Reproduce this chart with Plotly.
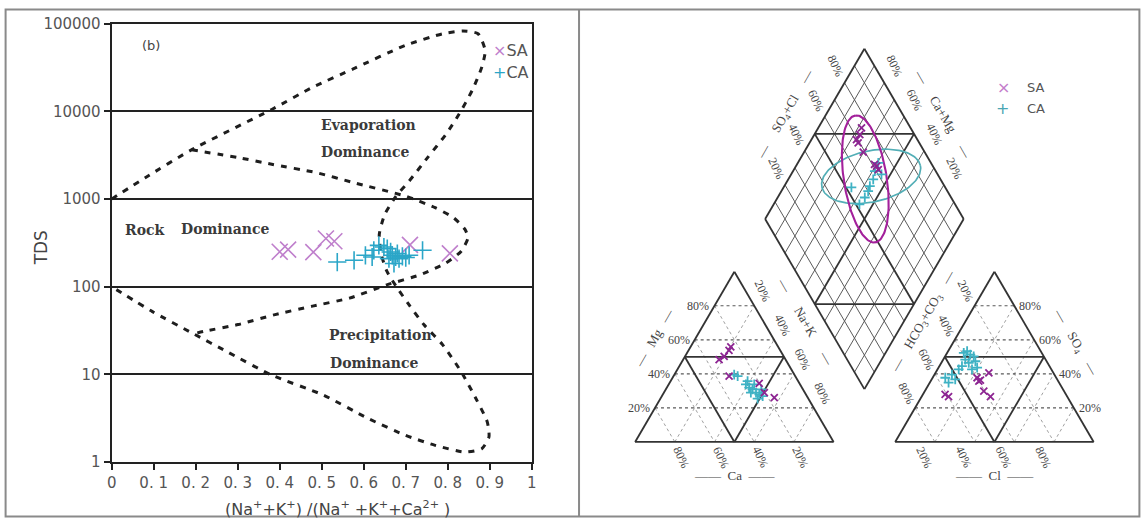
import math
import numpy as np
import plotly.graph_objects as go

W, H = 1145, 526
# the page is photographed with an 8px body margin and scaled to fit; positions below
# are given in target-picture pixels and converted to figure coordinates.
KX, KY = W / (W + 16), H / (H + 16)


def fx(px):
    return (px / KX - 8) / W


def fy(py):
    return 1 - (py / KY - 8) / H


# ---------------- Gibbs diagram data ----------------
gibbs_xticks = [0.0, 0.1, 0.2, 0.3, 0.4, 0.5, 0.6, 0.7, 0.8, 0.9, 1.0]
gibbs_xticktext = ["0", "0. 1", "0. 2", "0. 3", "0. 4", "0. 5", "0. 6", "0. 7", "0. 8", "0. 9", "1"]
gibbs_yticks = [1, 10, 100, 1000, 10000, 100000]
gibbs_yticktext = ["1", "10", "100", "1000", "10000", "100000"]

sa_ratio = [0.40, 0.42, 0.48, 0.51, 0.53, 0.71, 0.805]
sa_tds = [250, 265, 248, 355, 330, 300, 240]

ca_ratio = [0.537, 0.577, 0.604, 0.620, 0.624, 0.636, 0.648, 0.656, 0.660, 0.664,
            0.668, 0.672, 0.676, 0.680, 0.684, 0.692, 0.700, 0.708, 0.740]
ca_tds = [191, 200, 228, 218, 260, 296, 283, 272, 209, 249,
          228, 184, 218, 239, 209, 222, 215, 228, 260]

outer_x = [0, 0.08, 0.19, 0.381, 0.478, 0.575, 0.699, 0.788, 0.836, 0.872, 0.889, 0.881,
           0.858, 0.827, 0.796, 0.752, 0.708, 0.677, 0.650, 0.637, 0.642, 0.655, 0.677,
           0.708, 0.743, 0.788, 0.832, 0.867, 0.894, 0.898, 0.881, 0.841, 0.770, 0.699,
           0.611, 0.504, 0.381, 0.274, 0.195, 0.097, 0]
outer_y = [1000, 1750, 3640, 10500, 18800, 30500, 56500, 76800, 82400, 76800, 49500, 31900,
           17300, 9300, 5500, 2970, 1600, 1080, 667, 394, 232, 150, 101,
           62, 37, 21.7, 10.7, 5.3, 2.87, 1.93, 1.42, 1.30, 1.55, 2.02,
           3.13, 5.8, 9.8, 18.2, 29, 52, 100]

inner_x = [0.19, 0.301, 0.381, 0.487, 0.575, 0.699, 0.770, 0.814, 0.841, 0.848, 0.832,
           0.796, 0.735, 0.655, 0.566, 0.478, 0.389, 0.301, 0.221, 0.195]
inner_y = [3640, 2970, 2490, 2000, 1540, 1080, 796, 611, 450, 361, 254,
           187, 137, 105, 74, 60, 48, 37, 31, 29]

gibbs_label_text = ["Evaporation", "Dominance", "Rock", "Dominance", "Precipitation", "Dominance"]
gibbs_label_x = [0.612, 0.604, 0.077, 0.272, 0.639, 0.626]
gibbs_label_y = [6970, 3445, 441, 450, 27.9, 13.5]

# ---------------- Piper diagram data (percent) ----------------
sa_cat_ca = [33.5, 30.0, 25.8, 23.9, 33.3, 20.3, 16.9, 20.4]
sa_cat_mg = [48.4, 50.3, 53.8, 55.8, 38.7, 34.4, 26.0, 29.0]
sa_cat_nak = [18.1, 19.7, 20.4, 20.3, 28.0, 45.3, 57.1, 50.6]

ca_cat_ca = [30.3, 29.0, 27.3, 26.6, 25.4, 24.6, 23.5, 22.3, 23.1, 27.2, 21.0, 25.6, 25.5]
ca_cat_mg = [39.6, 38.7, 33.8, 31.9, 30.9, 29.0, 27.9, 26.9, 33.8, 29.0, 30.9, 25.4, 35.7]
ca_cat_nak = [30.1, 32.3, 38.9, 41.5, 43.7, 46.4, 48.6, 50.8, 43.1, 43.8, 48.1, 49.0, 38.8]

sa_an_hco3 = [60.9, 59.8, 39.9, 38.9, 32.5, 40.4, 38.7, 40.0]
sa_an_so4 = [27.9, 26.6, 37.7, 36.3, 40.6, 29.9, 26.6, 35.7]
sa_an_cl = [11.2, 13.6, 22.4, 24.8, 26.9, 29.7, 34.7, 24.3]

ca_an_hco3 = [39.3, 37.1, 36.5, 35.3, 40.5, 39.7, 35.9, 44.1, 46.7, 51.6, 55.9, 55.7, 40.0, 36.9, 51.4]
ca_an_so4 = [52.3, 53.3, 51.3, 50.3, 48.4, 46.5, 47.4, 44.5, 42.6, 39.6, 37.7, 34.8, 42.6, 43.6, 36.7]
ca_an_cl = [8.4, 9.6, 12.2, 14.4, 11.1, 13.8, 16.7, 11.4, 10.7, 8.8, 6.4, 9.5, 17.4, 19.5, 11.9]

sa_dia_camg = [78.2, 77.1, 77.3, 75.5, 70.2, 59.4, 57.5, 60.9]
sa_dia_so4cl = [75.3, 72.5, 69.3, 69.2, 69.0, 71.7, 71.5, 71.1]
ca_dia_camg = [59.5, 58.8, 57.2, 56.9, 56.3, 56.1, 65.8, 54.5, 56.8]
ca_dia_so4cl = [73.5, 69.3, 66.1, 62.4, 60.1, 56.5, 52.7, 71.7, 51.8]

# ellipses: centre (Ca+Mg %, SO4+Cl %), semi-axes (side units), rotation (deg)
sa_ell_center = [61.3, 62.2]
sa_ell_axes = [0.327, 0.108]
sa_ell_angle = 98.8
ca_ell_center = [59.1, 65.9]
ca_ell_axes = [0.254, 0.130]
ca_ell_angle = 12.6

pct_vals = [20, 40, 60, 80]
pct_text = ["20%", "40%", "60%", "80%"]

# ---------------- styling ----------------
SA_L = "#bf7fcc"
CA_L = "#2ba6c8"
SA_P = "#8d2592"
CA_P = "#3fb2c4"
SANS = "DejaVu Sans"
SERIF = "Liberation Serif"

# ---------------- Piper geometry ----------------
SQ = math.sqrt(3) / 2
G = 0.31
OX = 1 + G
BX, BY = 1 + G / 2, SQ * G
X0, Y0, S = 634.8, 442.8, 197.5  # picture pixel of cation Ca vertex, pixels per side


def cat_xy(ca, mg, nak):
    t = ca + mg + nak
    return (nak + 0.5 * mg) / t, SQ * mg / t


def an_xy(hco3, so4, cl):
    t = hco3 + so4 + cl
    return OX + (cl + 0.5 * so4) / t, SQ * so4 / t


def dia_xy(camg, so4cl):
    return BX - 0.5 * camg + 0.5 * so4cl, BY + SQ * (camg + so4cl)


fig = go.Figure()

# ---- Gibbs ----
for bx, by in ((outer_x, outer_y), (inner_x, inner_y)):
    fig.add_trace(go.Scatter(x=bx, y=by, mode="lines", xaxis="x", yaxis="y",
                             line=dict(color="#1e1e1e", width=3, dash="6px,7px", shape="spline", smoothing=0.6),
                             hoverinfo="skip", showlegend=False))
fig.add_trace(go.Scatter(x=sa_ratio, y=sa_tds, mode="markers", xaxis="x", yaxis="y",
                         marker=dict(symbol="x-thin", size=16, line=dict(color=SA_L, width=1.6)),
                         showlegend=False))
fig.add_trace(go.Scatter(x=ca_ratio, y=ca_tds, mode="markers", xaxis="x", yaxis="y",
                         marker=dict(symbol="cross-thin", size=13, line=dict(color=CA_L, width=1.6)),
                         showlegend=False))

# ---- Piper lines ----


def seg_trace(segs, color, width, dash="solid"):
    xs, ys = [], []
    for a, b in segs:
        xs += [a[0], b[0], None]
        ys += [a[1], b[1], None]
    return go.Scatter(x=xs, y=ys, mode="lines", xaxis="x2", yaxis="y2",
                      line=dict(color=color, width=width, dash=dash),
                      hoverinfo="skip", showlegend=False)


horiz, diag = [], []
for p in [0.2, 0.4, 0.6, 0.8]:
    q = 1 - p
    horiz.append((cat_xy(q, p, 0), cat_xy(0, p, q)))
    diag.append((cat_xy(p, q, 0), cat_xy(p, 0, q)))
    diag.append((cat_xy(q, 0, p), cat_xy(0, q, p)))
    horiz.append((an_xy(q, p, 0), an_xy(0, p, q)))
    diag.append((an_xy(p, q, 0), an_xy(p, 0, q)))
    diag.append((an_xy(q, 0, p), an_xy(0, q, p)))

dgrid = []
for i in range(1, 10):
    p = i / 10
    if i == 5:
        continue
    dgrid.append((dia_xy(p, 0), dia_xy(p, 1)))
    dgrid.append((dia_xy(0, p), dia_xy(1, p)))

thick = []
for f in (cat_xy, an_xy):
    thick += [(f(1, 0, 0), f(0, 0, 1)), (f(0, 0, 1), f(0, 1, 0)), (f(0, 1, 0), f(1, 0, 0))]
    thick += [(f(.5, .5, 0), f(0, .5, .5)), (f(0, .5, .5), f(.5, 0, .5)), (f(.5, 0, .5), f(.5, .5, 0))]
thick += [(dia_xy(0, 0), dia_xy(1, 0)), (dia_xy(1, 0), dia_xy(1, 1)),
          (dia_xy(1, 1), dia_xy(0, 1)), (dia_xy(0, 1), dia_xy(0, 0)),
          (dia_xy(.5, 0), dia_xy(.5, 1)), (dia_xy(0, .5), dia_xy(1, .5)),
          (dia_xy(1, .5), dia_xy(.5, 1)), (dia_xy(.5, 0), dia_xy(0, .5))]

fig.add_trace(seg_trace(diag, "#959595", 0.9, "dot"))
fig.add_trace(seg_trace(horiz, "#5a5a5a", 1.2, "dot"))
fig.add_trace(seg_trace(dgrid, "#5a5a5a", 1.0))
fig.add_trace(seg_trace(thick, "#333333", 1.8))


def ellipse(center, axes, angle, color, width):
    cx, cy = dia_xy(center[0] / 100, center[1] / 100)
    th = math.radians(angle)
    t = np.linspace(0, 2 * np.pi, 160)
    x = cx + axes[0] * np.cos(t) * math.cos(th) - axes[1] * np.sin(t) * math.sin(th)
    y = cy + axes[0] * np.cos(t) * math.sin(th) + axes[1] * np.sin(t) * math.cos(th)
    return go.Scatter(x=x, y=y, mode="lines", xaxis="x2", yaxis="y2",
                      line=dict(color=color, width=width), hoverinfo="skip", showlegend=False)


fig.add_trace(ellipse(ca_ell_center, ca_ell_axes, ca_ell_angle, "#52aeb6", 1.7))
fig.add_trace(ellipse(sa_ell_center, sa_ell_axes, sa_ell_angle, "#a3209b", 2.1))


def pts(f, a, b, c):
    xy = [f(*v) for v in zip(a, b, c)]
    return [p[0] for p in xy], [p[1] for p in xy]


def piper_pts(xs, ys, symbol, color, size):
    return go.Scatter(x=xs, y=ys, mode="markers", xaxis="x2", yaxis="y2",
                      marker=dict(symbol=symbol, size=size, line=dict(color=color, width=1.8)),
                      hoverinfo="skip", showlegend=False)


for f, a, b, c, sym, col in [
        (cat_xy, ca_cat_ca, ca_cat_mg, ca_cat_nak, "cross-thin", CA_P),
        (an_xy, ca_an_hco3, ca_an_so4, ca_an_cl, "cross-thin", CA_P),
        (cat_xy, sa_cat_ca, sa_cat_mg, sa_cat_nak, "x-thin", SA_P),
        (an_xy, sa_an_hco3, sa_an_so4, sa_an_cl, "x-thin", SA_P)]:
    xs, ys = pts(f, a, b, c)
    fig.add_trace(piper_pts(xs, ys, sym, col, 7))

dx, dy = zip(*[dia_xy(a / 100, b / 100) for a, b in zip(ca_dia_camg, ca_dia_so4cl)])
fig.add_trace(piper_pts(list(dx), list(dy), "cross-thin", CA_P, 7))
dx, dy = zip(*[dia_xy(a / 100, b / 100) for a, b in zip(sa_dia_camg, sa_dia_so4cl)])
fig.add_trace(piper_pts(list(dx), list(dy), "x-thin", SA_P, 7))

# ---------------- annotations ----------------
ann = []


def txt(text, x, y, xref="x2", yref="y2", size=11, family=SERIF, color="#444444",
        angle=0, xanchor="center", yanchor="middle", xshift=0, yshift=0):
    ann.append(dict(text=text, x=x, y=y, xref=xref, yref=yref, showarrow=False,
                    font=dict(size=size, family=family, color=color), textangle=angle,
                    xanchor=xanchor, yanchor=yanchor, xshift=xshift / KX, yshift=yshift / KY))


# Gibbs labels
for t, x, y in zip(gibbs_label_text, gibbs_label_x, gibbs_label_y):
    txt("<b>%s</b>" % t, x, math.log10(y), "x", "y", size=14, family="DejaVu Serif", color="#3a3a3a")
txt("(b)", 0.0945, math.log10(56900), "x", "y", size=13, family=SANS, color="#444444")
txt("<span style='color:%s'>×</span>SA" % SA_L, fx(491), fy(49), "paper", "paper",
    size=16, family=SANS, color="#555555", xanchor="left")
txt("<span style='color:%s'>+</span>CA" % CA_L, fx(491), fy(72), "paper", "paper",
    size=16, family=SANS, color="#555555", xanchor="left")
txt("TDS", fx(44), fy(248), "paper", "paper", size=17, family=SANS, color="#444444", angle=-90)
txt("(Na<sup>+</sup>+K<sup>+</sup>) /(Na<sup>+</sup> +K<sup>+</sup>+Ca<sup>2+</sup> )",
    fx(339), fy(510), "paper", "paper", size=16, family=SANS, color="#444444")

# Piper percent labels
for p, t in zip(pct_vals, pct_text):
    f = p / 100
    q = 1 - f
    x, y = cat_xy(q, f, 0)
    txt(t, x, y, size=12, xanchor="right", xshift=-3)
    x, y = cat_xy(0, q, f)
    txt(t, x, y, size=12, angle=65, xshift=8, yshift=14)
    x, y = cat_xy(f, 0, q)
    txt(t, x, y, size=12, angle=65, xshift=6, yshift=-15)
    x, y = an_xy(f, q, 0)
    txt(t, x, y, size=12, angle=65, xshift=-9, yshift=14)
    x, y = an_xy(0, f, q)
    txt(t, x, y, size=12, xanchor="left", xshift=3)
    x, y = an_xy(q, 0, f)
    txt(t, x, y, size=12, angle=65, xshift=-11, yshift=-15)
    x, y = dia_xy(1, f)
    txt(t, x, y, size=12, angle=65, xshift=-9, yshift=16)
    x, y = dia_xy(f, 1)
    txt(t, x, y, size=12, angle=65, xshift=10, yshift=16)

# Piper titles
x, y = cat_xy(.5, .5, 0)
txt("—   Mg   —", x, y, size=13, angle=-60, xshift=-30, yshift=19)
x, y = cat_xy(0, .5, .5)
txt("—      Na+K      —", x, y, size=13, angle=60, xshift=21, yshift=34)
x, y = cat_xy(.5, 0, .5)
txt("——  Ca  ——", x, y, size=13, yshift=-33)
x, y = an_xy(.5, .5, 0)
txt("—    HCO<sub>3</sub>+CO<sub>3</sub>    —", x, y, size=13, angle=-60, xshift=-21, yshift=34)
x, y = an_xy(0, .5, .5)
txt("—    SO<sub>4</sub>    —", x, y, size=13, angle=60, xshift=31, yshift=14)
x, y = an_xy(.5, 0, .5)
txt("——  Cl  ——", x, y, size=13, yshift=-33)
x, y = dia_xy(1, .5)
txt("—     SO<sub>4</sub>+Cl     —", x, y, size=13, angle=-60, xshift=-29, yshift=19)
x, y = dia_xy(.5, 1)
txt("—     Ca+Mg     —", x, y, size=13, angle=60, xshift=29, yshift=19)

# Piper legend
txt("×", fx(1001), fy(87), "paper", "paper", size=16, family=SANS, color="#c47ccb")
txt("SA", fx(1023), fy(87), "paper", "paper", size=13, family=SANS, color="#555555", xanchor="left")
txt("+", fx(1000), fy(108), "paper", "paper", size=16, family=SANS, color="#4aa6b4")
txt("CA", fx(1023), fy(108), "paper", "paper", size=13, family=SANS, color="#555555", xanchor="left")

# ---------------- layout ----------------
fig.update_layout(
    width=W, height=H, margin=dict(l=0, r=0, t=0, b=0, pad=0),
    paper_bgcolor="white", plot_bgcolor="white", showlegend=False,
    annotations=ann,
    xaxis=dict(domain=[fx(114), fx(532)], range=[0, 1], tickmode="array",
               tickvals=gibbs_xticks, ticktext=gibbs_xticktext, ticks="outside",
               ticklen=6, tickwidth=2, tickcolor="#222", showline=True, linecolor="#222",
               linewidth=2, mirror=True, showgrid=False, zeroline=False,
               tickfont=dict(family=SANS, size=15, color="#555555"), anchor="y"),
    yaxis=dict(domain=[fy(463), fy(22.5)], type="log", range=[0, 5], tickmode="array",
               tickvals=gibbs_yticks, ticktext=gibbs_yticktext, ticks="outside",
               ticklen=6, tickwidth=2, tickcolor="#222", showline=True, linecolor="#222",
               linewidth=2, mirror=True, showgrid=True, gridcolor="#222", gridwidth=1.6,
               zeroline=False, tickfont=dict(family=SANS, size=15, color="#555555"), anchor="x"),
    xaxis2=dict(domain=[fx(590), fx(1135)], range=[(590 - X0) / S, (1135 - X0) / S],
                visible=False, anchor="y2"),
    yaxis2=dict(domain=[fy(515), fy(10)], range=[(Y0 - 515) / S, (Y0 - 10) / S],
                visible=False, anchor="x2"),
    shapes=[
        dict(type="rect", xref="paper", yref="paper", x0=0.6 / W, x1=1 - 0.6 / W,
             y0=0.6 / H, y1=1 - 0.6 / H, line=dict(color="#8a8a8a", width=2)),
        dict(type="line", xref="paper", yref="paper", x0=fx(579), x1=fx(579), y0=0, y1=1,
             line=dict(color="#8a8a8a", width=2)),
    ],
)

fig.write_html("out.html")
